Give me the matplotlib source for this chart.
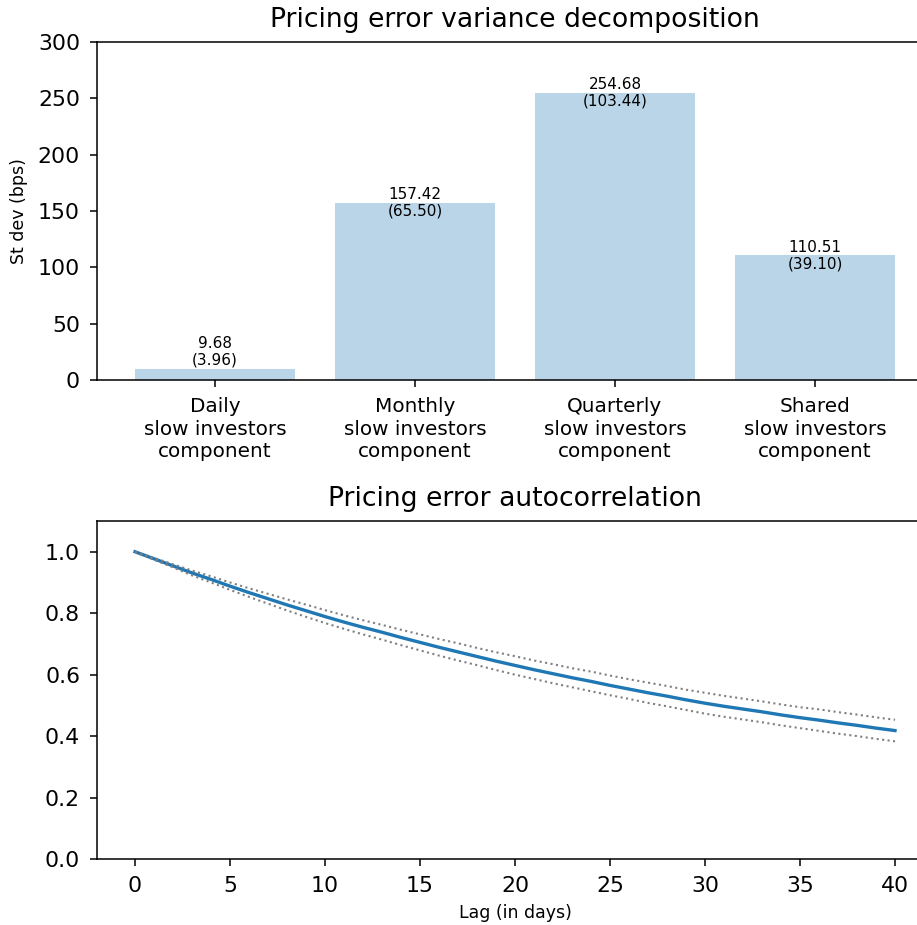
import matplotlib
matplotlib.use("Agg")
import matplotlib.pyplot as plt

# donnees du graphe du haut
composantes = ["Daily\nslow investors\ncomponent",
               "Monthly\nslow investors\ncomponent",
               "Quarterly\nslow investors\ncomponent",
               "Shared\nslow investors\ncomponent"]
ecart_type = [9.68, 157.42, 254.68, 110.51]
erreur_std = [3.96, 65.50, 103.44, 39.10]

# autocorrelation, lag 0..40
lags = list(range(41))
autocorr = [1.000, 0.977, 0.954, 0.931, 0.910, 0.888, 0.867, 0.847, 0.827, 0.808,
            0.789, 0.771, 0.754, 0.738, 0.721, 0.705, 0.689, 0.674, 0.659, 0.644,
            0.630, 0.616, 0.603, 0.590, 0.578, 0.565, 0.553, 0.541, 0.530, 0.518,
            0.507, 0.497, 0.488, 0.479, 0.469, 0.460, 0.452, 0.443, 0.435, 0.426,
            0.418]
borne_haute = [1.000, 0.980, 0.959, 0.939, 0.920, 0.900, 0.881, 0.863, 0.845, 0.828,
               0.810, 0.793, 0.777, 0.762, 0.746, 0.731, 0.716, 0.702, 0.687, 0.673,
               0.660, 0.646, 0.634, 0.621, 0.610, 0.597, 0.585, 0.574, 0.563, 0.551,
               0.541, 0.531, 0.522, 0.513, 0.503, 0.494, 0.487, 0.478, 0.470, 0.461,
               0.453]
borne_basse = [1.000, 0.974, 0.949, 0.923, 0.900, 0.876, 0.853, 0.831, 0.809, 0.788,
               0.768, 0.749, 0.731, 0.714, 0.696, 0.679, 0.662, 0.646, 0.631, 0.615,
               0.600, 0.586, 0.572, 0.559, 0.546, 0.533, 0.521, 0.508, 0.497, 0.485,
               0.473, 0.463, 0.454, 0.445, 0.435, 0.426, 0.417, 0.408, 0.400, 0.391,
               0.383]


def reglage_axes(ax):
    ax.tick_params(length=4.7, width=1.1, pad=7.5, labelsize=15.8)
    for s in ax.spines.values():
        s.set_linewidth(1.1)


def main():
    W, H = 917, 925
    fig = plt.figure(figsize=(W / 100, H / 100), dpi=100)

    gauche = 97 / W
    largeur = 836 / W   # l'axe depasse a droite (figure coupee)
    hauteur = 338 / H

    # --- decomposition de variance ---
    ax1 = fig.add_axes([gauche, (H - 380) / H, largeur, hauteur])
    pos = list(range(len(composantes)))
    ax1.bar(pos, ecart_type, color="C0", alpha=0.3)
    for i, v in enumerate(ecart_type):
        ax1.text(i, max(v, 25), f"{v:.2f}\n({erreur_std[i]:.2f})",
                 ha="center", va="center", fontsize=11, linespacing=1.15)
    ax1.set_ylim(0, 300)
    reglage_axes(ax1)
    ax1.set_xticks(pos)
    ax1.set_xticklabels(composantes, fontsize=14.4, linespacing=1.25)
    ax1.set_ylabel("St dev (bps)", fontsize=12.5, labelpad=7)
    ax1.set_title("Pricing error variance decomposition", fontsize=19.2, pad=10.5)

    # --- autocorrelation ---
    ax2 = fig.add_axes([gauche, (H - 859) / H, largeur, hauteur])
    ax2.plot(lags, autocorr, color="C0", lw=2.4)
    ax2.plot(lags, borne_haute, ":", color="gray", lw=1.5)
    ax2.plot(lags, borne_basse, ":", color="gray", lw=1.5)
    ax2.set_ylim(0, 1.1)
    ax2.set_xlim(-2, 42)
    ax2.set_yticks([0.0, 0.2, 0.4, 0.6, 0.8, 1.0])
    reglage_axes(ax2)
    ax2.set_xlabel("Lag (in days)", fontsize=12.5, labelpad=6)
    ax2.set_title("Pricing error autocorrelation", fontsize=19.2, pad=10.5)

    fig.savefig("out.png", dpi=100)


if __name__ == "__main__":
    main()
